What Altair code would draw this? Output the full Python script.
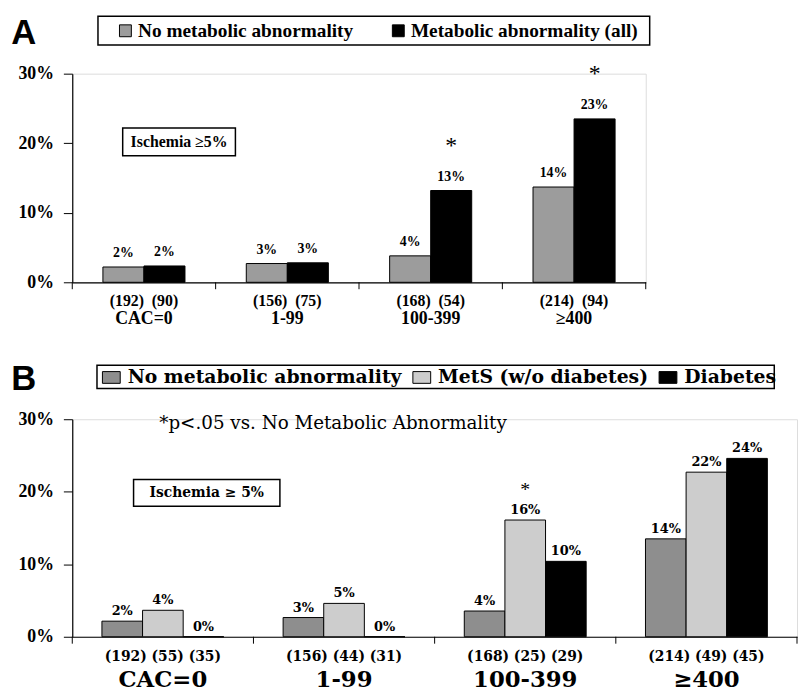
import altair as alt
import pandas as pd

# ---------------- data ----------------
cats = ["CAC=0", "1-99", "100-399", "≥400"]

# Panel A
a_series = ["No metabolic abnormality", "Metabolic abnormality (all)"]
a_none = [2.2, 2.7, 3.8, 13.7]
a_meta = [2.35, 2.8, 13.2, 23.5]
a_none_lbl = ["2%", "3%", "4%", "14%"]
a_meta_lbl = ["2%", "3%", "13%", "23%"]
a_none_star = ["", "", "", ""]
a_meta_star = ["", "", "*", "*"]
a_n_none = [192, 156, 168, 214]
a_n_meta = [90, 75, 54, 94]

# Panel B
b_series = ["No metabolic abnormality", "MetS (w/o diabetes)", "Diabetes"]
b_none = [2.15, 2.65, 3.55, 13.5]
b_mets = [3.65, 4.6, 16.1, 22.7]
b_diab = [0.0, 0.0, 10.4, 24.6]
b_none_lbl = ["2%", "3%", "4%", "14%"]
b_mets_lbl = ["4%", "5%", "16%", "22%"]
b_diab_lbl = ["0%", "0%", "10%", "24%"]
b_none_star = ["", "", "", ""]
b_mets_star = ["", "", "*", ""]
b_diab_star = ["", "", "", ""]
b_n_none = [192, 156, 168, 214]
b_n_mets = [55, 44, 25, 49]
b_n_diab = [35, 31, 29, 45]

a_colors = ["#9c9c9c", "#000000"]
b_colors = ["#8e8e8e", "#cdcdcd", "#000000"]

# ---------------- tables ----------------
NB = "\u00a0"
rowsA = []
for s, vals, lbls, stars in [(a_series[0], a_none, a_none_lbl, a_none_star),
                             (a_series[1], a_meta, a_meta_lbl, a_meta_star)]:
    for c, v, l, st in zip(cats, vals, lbls, stars):
        rowsA.append({"cat": c, "series": s, "value": v, "label": l, "star": st})
dfA = pd.DataFrame(rowsA)
nA = pd.DataFrame({"cat": cats,
                   "ntext": [f"({a}){NB}{NB}({b})" for a, b in zip(a_n_none, a_n_meta)]})

rowsB = []
for s, vals, lbls, stars in [(b_series[0], b_none, b_none_lbl, b_none_star),
                             (b_series[1], b_mets, b_mets_lbl, b_mets_star),
                             (b_series[2], b_diab, b_diab_lbl, b_diab_star)]:
    for c, v, l, st in zip(cats, vals, lbls, stars):
        rowsB.append({"cat": c, "series": s, "value": v, "label": l, "star": st})
dfB = pd.DataFrame(rowsB)
nB = pd.DataFrame({"cat": cats,
                   "ntext": [f"({a}) ({b}) ({c})" for a, b, c in zip(b_n_none, b_n_mets, b_n_diab)]})
catsDF = pd.DataFrame({"cat": cats})


def frame(x0, x1, y0, y1, sw=1.5):
    return alt.Chart(pd.DataFrame({"k": [0]})).mark_rect(
        fill="white", stroke="black", strokeWidth=sw).encode(
        x=alt.value(x0), x2=alt.value(x1), y=alt.value(y0), y2=alt.value(y1))


def build_panel(df, ndf, series, colors, W, H, pad_outer, letter, legend, legbox,
                fonts, box, note=None):
    (serif_lbl, lbl_size, n_size, cat_size, lbl_dy, star_size, star_dy,
     n_dy, cat_dy) = fonts
    xs = alt.Scale(paddingInner=0, paddingOuter=0)
    xaxis = alt.Axis(labels=False, ticks=False, title=None, domainColor="black",
                     domainWidth=1.2, grid=False)
    ys = alt.Scale(domain=[0, 30], nice=False)
    yaxis = alt.Axis(values=[0, 10, 20, 30], labelExpr="datum.value + '%'", title=None,
                     grid=False, domainColor="black", domainWidth=1.2, tickColor="black",
                     tickSize=9, labelPadding=10, labelFont="Liberation Serif",
                     labelFontWeight="bold", labelFontSize=18, labelColor="black")

    def X(bp=0.5):
        return alt.X("cat:N", sort=cats, scale=xs, axis=xaxis, bandPosition=bp)

    xo = alt.XOffset("series:N", sort=series,
                     scale=alt.Scale(paddingOuter=pad_outer, paddingInner=0))
    Y = alt.Y("value:Q", scale=ys, axis=yaxis)

    legframe = frame(*legbox)

    base = alt.Chart(df)
    bars = base.mark_bar(stroke="black", strokeWidth=1).encode(
        x=X(), xOffset=xo, y=Y,
        color=alt.Color("series:N", sort=series,
                        scale=alt.Scale(domain=series, range=colors),
                        legend=legend),
    )
    labels = base.mark_text(font=serif_lbl, fontWeight="bold", fontSize=lbl_size,
                            baseline="middle", dy=lbl_dy, color="black").encode(
        x=X(), xOffset=xo, y=Y, text="label:N")
    stars = base.transform_filter("datum.star != ''").mark_text(
        font="Liberation Serif", fontSize=star_size, baseline="middle", dy=star_dy,
        color="black").encode(x=X(), xOffset=xo, y=Y, text="star:N")

    ticks = alt.Chart(catsDF).mark_rule(color="black", strokeWidth=1).encode(
        x=X(0), y=alt.value(H), y2=alt.value(H + 7))
    last_tick = alt.Chart(catsDF).transform_filter(
        alt.datum.cat == cats[-1]).mark_rule(color="black", strokeWidth=1).encode(
        x=X(1), y=alt.value(H), y2=alt.value(H + 7))

    ntext = alt.Chart(ndf).mark_text(font=serif_lbl, fontWeight="bold", fontSize=n_size,
                                     baseline="middle", color="black").encode(
        x=X(), y=alt.value(H + n_dy), text="ntext:N")
    cattext = alt.Chart(ndf).mark_text(font=serif_lbl, fontWeight="bold",
                                       fontSize=cat_size, baseline="middle",
                                       color="black").encode(
        x=X(), y=alt.value(H + cat_dy), text="cat:N")

    bx0, bx1, by0, by1, btext, bfont, bsize = box
    boxdf = pd.DataFrame({"t": [btext]})
    boxrect = frame(bx0, bx1, by0, by1)
    boxtext = alt.Chart(boxdf).mark_text(font=bfont, fontWeight="bold", fontSize=bsize,
                                         align="center", baseline="middle",
                                         color="black").encode(
        x=alt.value((bx0 + bx1) / 2), y=alt.value((by0 + by1) / 2), text="t:N")

    letdf = pd.DataFrame({"t": [letter]})
    lettext = alt.Chart(letdf).mark_text(font="Liberation Sans", fontWeight="bold",
                                         fontSize=35, align="center",
                                         baseline="middle", color="black").encode(
        x=alt.value(-49), y=alt.value(-41), text="t:N")

    layers = [legframe, bars, labels, stars, ticks, last_tick, ntext, cattext, boxrect,
              boxtext, lettext]
    if note is not None:
        notedf = pd.DataFrame({"t": [note]})
        layers.append(alt.Chart(notedf).mark_text(
            font="DejaVu Serif", fontSize=18.5, align="left", baseline="middle",
            color="black").encode(x=alt.value(88), y=alt.value(4), text="t:N"))
    return alt.layer(*layers).properties(width=W, height=H)


legendA = alt.Legend(orient="none", legendX=44, legendY=-53.5, direction="horizontal",
                     title=None, padding=0,
                     symbolType="square", symbolSize=144, symbolStrokeColor="black",
                     symbolStrokeWidth=1, labelFont="Liberation Serif",
                     labelFontWeight="bold", labelFontSize=19.5, labelColor="black",
                     labelLimit=600, columnPadding=35, labelOffset=3, symbolOffset=0)
legendB = alt.Legend(orient="none", legendX=30, legendY=-52, direction="horizontal",
                     title=None, padding=0,
                     symbolType="M-1,-0.66L1,-0.66L1,0.66L-1,0.66Z", symbolSize=324,
                     symbolStrokeColor="black", symbolStrokeWidth=1,
                     labelFont="DejaVu Serif", labelFontWeight="bold", labelFontSize=19,
                     labelColor="black", labelLimit=600, columnPadding=8,
                     labelOffset=7, symbolOffset=0)

panelA = build_panel(dfA, nA, a_series, a_colors, 580, 211, 0.747, "A", legendA,
                     (26, 584, -58, -29),
                     ("Liberation Serif", 14, 16, 18, -14, 24, -45, 18.5, 37.5),
                     (51, 165, 55, 83, "Ischemia ≥5%", "Liberation Serif", 16))
panelB = build_panel(dfB, nB, b_series, b_colors, 733, 220, 0.73, "B", legendB,
                     (25, 710, -54.5, -31),
                     ("DejaVu Serif", 13, 14, 23, -10, 20, -30, 20.5, 43.5),
                     (62, 210, 61, 88, "Ischemia ≥ 5%", "DejaVu Serif", 14),
                     note="*p<.05 vs. No Metabolic Abnormality")

chart = alt.vconcat(panelA, panelB, spacing=138.5, bounds="flush").resolve_scale(
    x="independent", y="independent", color="independent", xOffset="independent"
).properties(
    padding={"left": 2, "top": 2.5, "right": 0, "bottom": 0}
).configure_view(stroke=None).configure(background="white")

chart.save("out.html", embed_options={"renderer": "svg", "actions": False})
